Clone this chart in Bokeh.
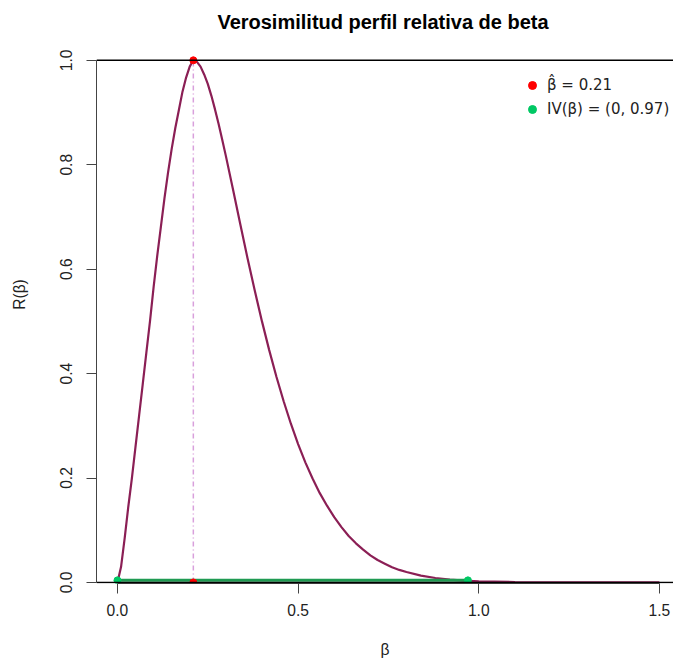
from bokeh.plotting import figure
from bokeh.models import Range1d, Legend, LegendItem, FixedTicker, Span, PrintfTickFormatter, Label
from bokeh.embed import file_html
from bokeh.resources import INLINE

# ---- data ----
beta_grid = [0.00, 0.01, 0.02, 0.03, 0.04, 0.05, 0.06, 0.07, 0.08, 0.09, 0.10, 0.11, 0.12,
             0.13, 0.14, 0.15, 0.16, 0.17, 0.18, 0.19, 0.20, 0.21, 0.22, 0.23, 0.24, 0.25,
             0.26, 0.27, 0.28, 0.29, 0.30, 0.32, 0.34, 0.36, 0.38, 0.40, 0.42, 0.44, 0.46,
             0.48, 0.50, 0.52, 0.54, 0.56, 0.58, 0.60, 0.62, 0.64, 0.66, 0.68, 0.70, 0.72,
             0.74, 0.76, 0.78, 0.80, 0.84, 0.88, 0.92, 0.96, 1.00, 1.10, 1.20, 1.30, 1.50]
rel_lik = [0.000, 0.030, 0.085, 0.145, 0.200, 0.260, 0.320, 0.380, 0.440, 0.500, 0.565, 0.625,
           0.680, 0.735, 0.785, 0.830, 0.870, 0.905, 0.940, 0.967, 0.988, 1.000, 0.997, 0.988,
           0.973, 0.955, 0.932, 0.906, 0.878, 0.848, 0.817, 0.752, 0.686, 0.621, 0.559, 0.500,
           0.445, 0.394, 0.347, 0.304, 0.265, 0.230, 0.199, 0.171, 0.147, 0.125, 0.106, 0.089,
           0.075, 0.063, 0.052, 0.043, 0.036, 0.029, 0.024, 0.020, 0.013, 0.0085, 0.0055,
           0.0036, 0.0023, 0.0009, 0.0004, 0.0001, 0.0]
beta_hat = 0.21
iv_bounds = [0.0, 0.97]
iv_level = [0.004, 0.004]
x_ticks = [0.0, 0.5, 1.0, 1.5]
y_ticks = [0.0, 0.2, 0.4, 0.6, 0.8, 1.0]
title_text = "Verosimilitud perfil relativa de beta"
legend_labels = ["\u03b2\u0302 = 0.21", "IV(\u03b2) = (0, 0.97)"]

FONT = "Liberation Sans"
FS = "15.6px"

# the frame reaches up to the page top so the title can sit inside it
p = figure(width=673, height=662, output_backend="svg", toolbar_location=None,
           x_range=Range1d(-0.058, 1.539), y_range=Range1d(-0.002, 1.105),
           min_border_left=96, min_border_right=0, min_border_top=5, min_border_bottom=79)
p.background_fill_color = "white"
p.border_fill_color = "white"
p.outline_line_color = None
p.xgrid.visible = False
p.ygrid.visible = False

for ax in (p.xaxis[0], p.yaxis[0]):
    ax.axis_line_color = "#444444"
    ax.major_tick_line_color = "#444444"
    ax.major_tick_out = 10
    ax.major_tick_in = 0
    ax.minor_tick_line_color = None
    ax.major_label_text_font = FONT
    ax.major_label_text_font_size = FS
    ax.major_label_text_color = "#222222"
    ax.axis_label_text_font = FONT
    ax.axis_label_text_font_size = FS
    ax.axis_label_text_font_style = "normal"
    ax.axis_label_text_color = "#222222"
    ax.formatter = PrintfTickFormatter(format="%.1f")

p.xaxis.ticker = FixedTicker(ticks=x_ticks)
p.yaxis.ticker = FixedTicker(ticks=y_ticks)
p.xaxis.bounds = (x_ticks[0], x_ticks[-1])
p.yaxis.bounds = (y_ticks[0], y_ticks[-1])
p.xaxis.axis_label = "\u03b2"
p.yaxis.axis_label = "R(\u03b2)"
p.yaxis.major_label_orientation = "vertical"
p.xaxis.major_label_standoff = 10
p.yaxis.major_label_standoff = 14
p.xaxis.axis_label_standoff = 22
p.yaxis.axis_label_standoff = 30

p.add_layout(Span(location=0, dimension="width", line_color="black", line_width=1.5))
p.add_layout(Span(location=1, dimension="width", line_color="black", line_width=1.5))

p.line(beta_grid, rel_lik, line_color="#8b1f55", line_width=2.2)
p.line([beta_hat, beta_hat], [0, 1], line_color="#d9a0dc", line_width=1.5, line_dash="5 3 1 3")
p.line(iv_bounds, iv_level, line_color="#1f9a52", line_width=3)
r_red = p.scatter([beta_hat, beta_hat], [0, 1], size=7, color="#ff0000")
r_green = p.scatter(iv_bounds, iv_level, size=7, color="#00c864")

legend = Legend(items=[LegendItem(label=legend_labels[0], renderers=[r_red]),
                       LegendItem(label=legend_labels[1], renderers=[r_green])],
                location=(426, 464), border_line_color=None, background_fill_alpha=0,
                label_text_font="DejaVu Sans", label_text_font_size="15px",
                label_text_color="#222222",
                glyph_width=20, glyph_height=20, label_height=20, spacing=4, padding=10,
                label_standoff=5, margin=0)
p.add_layout(legend, "center")

# title as a label inside the (extended) frame, above the y = 1 line
p.add_layout(Label(text=title_text, x=286.5, y=562, x_units="screen", y_units="screen",
                   text_align="center", text_baseline="alphabetic", text_font=FONT,
                   text_font_size="20px", text_font_style="bold", text_color="black"))

open("out.html", "w").write(file_html(p, INLINE))
